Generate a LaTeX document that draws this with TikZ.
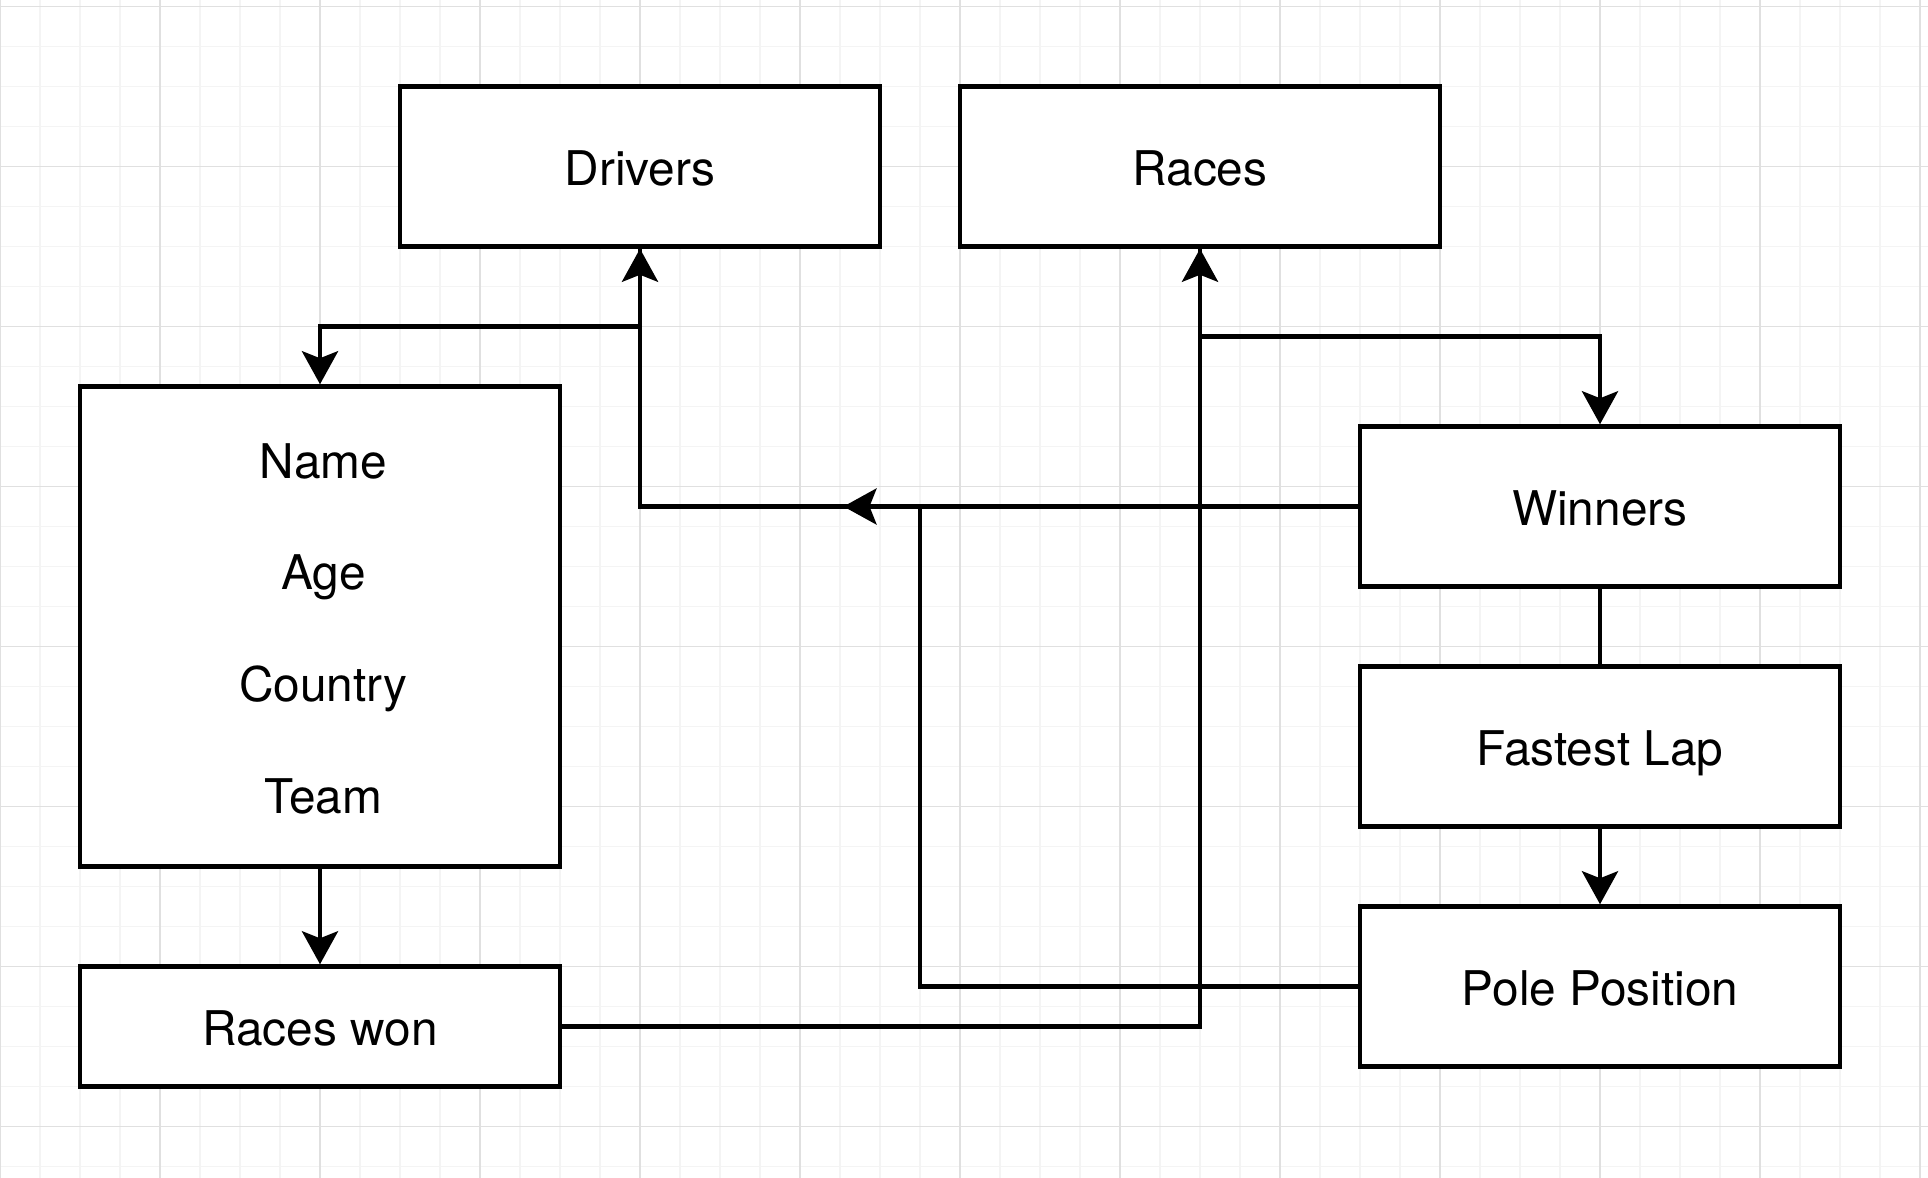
\documentclass[tikz,border=0pt]{standalone}
\usepackage{fontspec}
\setmainfont{TeX Gyre Heros}
\usetikzlibrary{arrows.meta}
\definecolor{gridminor}{HTML}{F4F4F4}
\definecolor{gridmajor}{HTML}{E0E0E0}
\begin{document}
\begin{tikzpicture}[x=0.5pt,y=-0.5pt,
  box/.style={draw=black, line width=2.25pt, fill=white, minimum width=240pt, minimum height=80pt, inner sep=0pt, font=\fontsize{23.9pt}{28pt}\selectfont, text height=18.7pt, text depth=0pt},
  conn/.style={draw=black, line width=2.25pt, -{Stealth[length=16.5pt,width=18pt,inset=3.5pt]}},
  plainconn/.style={draw=black, line width=2.25pt},
  lbl/.style={font=\fontsize{23.9pt}{28pt}\selectfont, inner sep=0pt, anchor=base},
  minorgrid/.style={draw=gridminor, line width=0.7pt},
  majorgrid/.style={draw=gridmajor, line width=0.7pt}]
\fill[white] (0,0) rectangle (1928,1178);
\useasboundingbox (0,0) rectangle (1928,1178);
% grid
\foreach \x in {40,80,...,1920} \draw[minorgrid] (\x,0) -- (\x,1178);
\foreach \y in {6.5,46.5,...,1166.5} \draw[minorgrid] (0,\y) -- (1928,\y);
\foreach \x in {0,160,...,1920} \draw[majorgrid] (\x,0) -- (\x,1178);
\foreach \y in {6.5,166.5,...,1126.5} \draw[majorgrid] (0,\y) -- (1928,\y);
% boxes
\node[box] (drivers) at (640,166.5) {Drivers};
\node[box] (races) at (1200,166.5) {Races};
\node[box, minimum height=240pt] (attrs) at (320,626.5) {};
\node[lbl] (aname) at (323.5,478) {Name};
\node[lbl] (aage) at (323.5,589.7) {Age};
\node[lbl] (acountry) at (323.5,701.4) {Country};
\node[lbl] (ateam) at (323.5,813.1) {Team};
\node[box, minimum height=60pt] (raceswon) at (320,1026.5) {Races won};
\node[box] (winners) at (1600,506.5) {Winners};
\node[box] (fastest) at (1600,746.5) {Fastest Lap};
\node[box] (pole) at (1600,986.5) {Pole Position};
% helper coordinates
\coordinate (d1) at (640,326.5);
\coordinate (r1) at (1200,336.5);
\coordinate (pbend) at (920,506.5);
\coordinate (pend) at (843.5,506.5);
% connectors
\draw[conn] (winners.west) -| (drivers.south);
\draw[conn] (drivers.south) -- (d1) -| (attrs.north);
\draw[conn] (races.south) -- (r1) -| (winners.north);
\draw[conn] (raceswon.east) -| (races.south);
\draw[conn] (attrs.south) -- (raceswon.north);
\draw[plainconn] (winners.south) -- (fastest.north);
\draw[conn] (fastest.south) -- (pole.north);
\draw[conn] (pole.west) -| (pbend) -- (pend);
\end{tikzpicture}
\end{document}
